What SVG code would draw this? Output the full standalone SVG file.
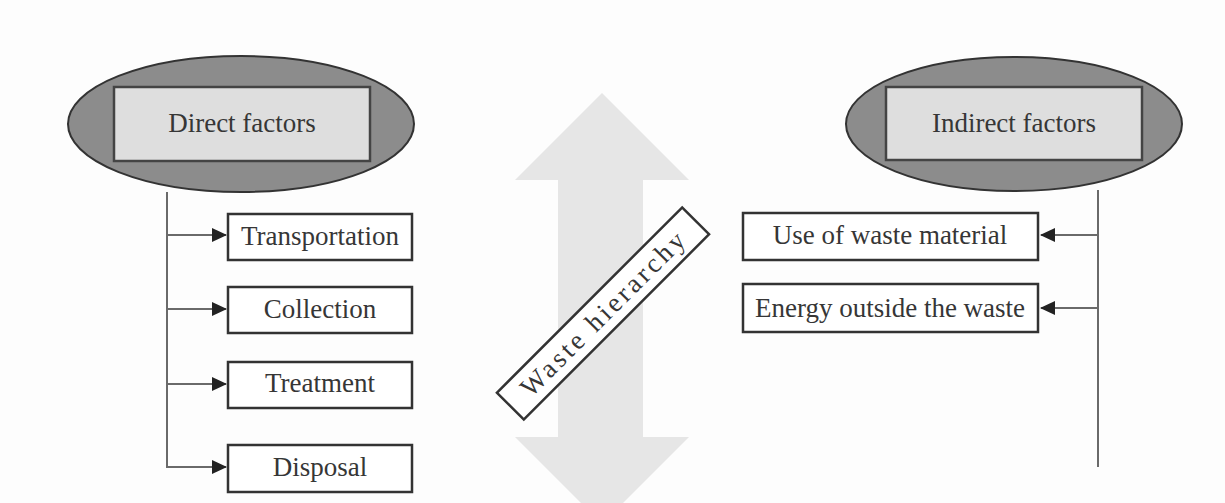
<svg xmlns="http://www.w3.org/2000/svg" width="1225" height="503" viewBox="0 0 1225 503">
  <style>
    .lbl { font-family: "Liberation Serif", "Times New Roman", serif; font-size: 27px; fill: #363636; text-anchor: middle; }
    .box { fill: #ffffff; stroke: #333333; stroke-width: 2.5; }
    .oval { fill: #8c8c8c; stroke: #333333; stroke-width: 2; }
    .head { fill: #dedede; stroke: #444444; stroke-width: 2.5; }
    .wire { fill: none; stroke: #6a6a6a; stroke-width: 2; }
  </style>
  <defs>
    <marker id="tip" viewBox="0 0 15 14" refX="14" refY="7" markerWidth="15" markerHeight="14" markerUnits="userSpaceOnUse" orient="auto">
      <path d="M0,0 L15,7 L0,14 Z" fill="#222222"/>
    </marker>
  </defs>
  <rect width="1225" height="503" fill="#fdfdfd"/>

  <!-- central double-headed arrow -->
  <polygon id="hierarchy-arrow" points="602,93 689,180 643,180 643,437 689,437 602,524 515,437 558,437 558,180 515,180" fill="#e6e6e6"/>

  <!-- connectors -->
  <g id="connectors">
    <path class="wire" d="M167,192 V467 H226" marker-end="url(#tip)"/>
    <path class="wire" d="M167,235 H226" marker-end="url(#tip)"/>
    <path class="wire" d="M167,309 H226" marker-end="url(#tip)"/>
    <path class="wire" d="M167,384 H226" marker-end="url(#tip)"/>
    <path class="wire" d="M1098,190 V467"/>
    <path class="wire" d="M1098,235 H1041" marker-end="url(#tip)"/>
    <path class="wire" d="M1098,308 H1041" marker-end="url(#tip)"/>
  </g>

  <!-- heads -->
  <g id="direct-factors">
    <ellipse class="oval" cx="241" cy="124" rx="173" ry="68"/>
    <rect class="head" x="114" y="87" width="256" height="74"/>
    <text class="lbl" x="242" y="132">Direct factors</text>
  </g>
  <g id="indirect-factors">
    <ellipse class="oval" cx="1014" cy="124" rx="168" ry="67"/>
    <rect class="head" x="886" y="87" width="256" height="73"/>
    <text class="lbl" x="1014" y="132">Indirect factors</text>
  </g>

  <!-- direct factor boxes -->
  <g id="transportation">
    <rect class="box" x="228" y="214" width="184" height="46"/>
    <text class="lbl" x="320" y="245">Transportation</text>
  </g>
  <g id="collection">
    <rect class="box" x="228" y="287" width="184" height="46"/>
    <text class="lbl" x="320" y="318">Collection</text>
  </g>
  <g id="treatment">
    <rect class="box" x="228" y="362" width="184" height="46"/>
    <text class="lbl" x="320" y="392">Treatment</text>
  </g>
  <g id="disposal">
    <rect class="box" x="228" y="445" width="184" height="47"/>
    <text class="lbl" x="320" y="476">Disposal</text>
  </g>

  <!-- indirect factor boxes -->
  <g id="use-of-waste-material">
    <rect class="box" x="743" y="213" width="295" height="47"/>
    <text class="lbl" x="890" y="244">Use of waste material</text>
  </g>
  <g id="energy-outside-the-waste">
    <rect class="box" x="743" y="284" width="295" height="48"/>
    <text class="lbl" x="890" y="317">Energy outside the waste</text>
  </g>

  <!-- rotated label on the arrow -->
  <g id="waste-hierarchy" transform="translate(603,313.5) rotate(-45)">
    <rect x="-131" y="-19" width="262" height="38" fill="#ffffff" stroke="#333333" stroke-width="2.5"/>
    <text class="lbl" x="1" y="9" font-size="28" letter-spacing="3.3">Waste hierarchy</text>
  </g>
</svg>
